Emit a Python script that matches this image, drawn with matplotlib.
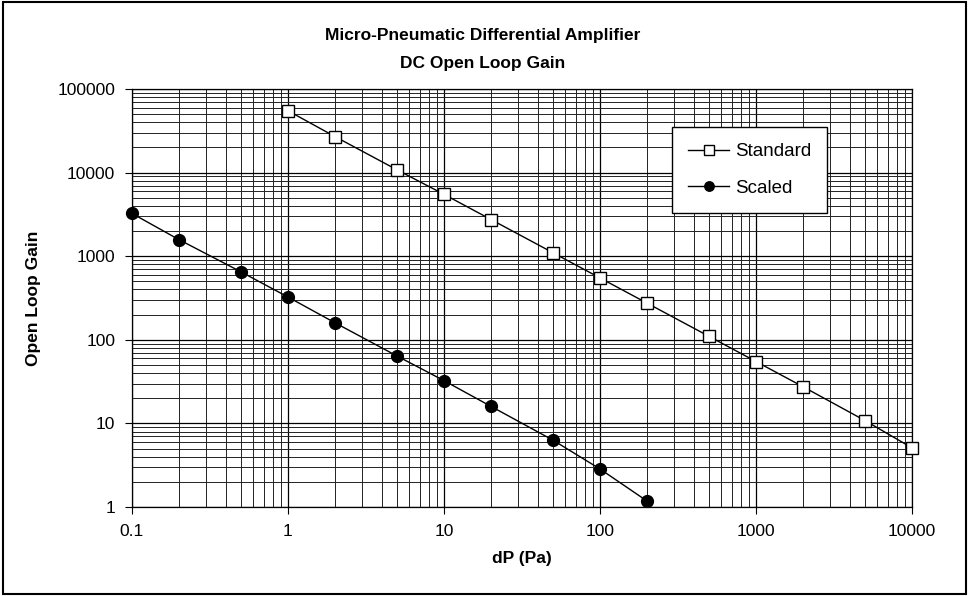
import matplotlib
matplotlib.use('Agg')
import matplotlib.pyplot as plt
from matplotlib.patches import Rectangle
from matplotlib.ticker import LogLocator, FixedLocator, FixedFormatter, NullFormatter

plt.rcParams['font.family'] = ['Liberation Sans', 'DejaVu Sans']

# Standard amplifier
std_dp = [1, 2, 5, 10, 20, 50, 100, 200, 500, 1000, 2000, 5000, 10000]
std_gain = [55000, 27000, 10800, 5500, 2750, 1100, 550, 275, 110, 55, 27.5, 10.8, 5.1]

# Scaled amplifier
scl_dp = [0.1, 0.2, 0.5, 1, 2, 5, 10, 20, 50, 100, 200]
scl_gain = [3250, 1580, 650, 325, 160, 64, 32.5, 16, 6.3, 2.85, 1.18]

x_ticks = [0.1, 1, 10, 100, 1000, 10000]
x_labels = ['0.1', '1', '10', '100', '1000', '10000']
y_ticks = [1, 10, 100, 1000, 10000, 100000]
y_labels = ['1', '10', '100', '1000', '10000', '100000']

fig = plt.figure(figsize=(9.69, 5.96), dpi=100)
fig.patches.append(Rectangle((0.003, 0.003), 0.994, 0.994, transform=fig.transFigure,
                             fill=False, edgecolor='black', linewidth=1.5))

ax = fig.add_axes([0.1362, 0.1493, 0.805, 0.7013])
ax.set_xscale('log')
ax.set_yscale('log')
ax.set_xlim(0.1, 10000)
ax.set_ylim(1, 100000)

ax.xaxis.set_major_locator(FixedLocator(x_ticks))
ax.xaxis.set_major_formatter(FixedFormatter(x_labels))
ax.yaxis.set_major_locator(FixedLocator(y_ticks))
ax.yaxis.set_major_formatter(FixedFormatter(y_labels))
ax.xaxis.set_minor_locator(LogLocator(base=10, subs=range(2, 10), numticks=20))
ax.yaxis.set_minor_locator(LogLocator(base=10, subs=range(2, 10), numticks=20))
ax.xaxis.set_minor_formatter(NullFormatter())
ax.yaxis.set_minor_formatter(NullFormatter())

ax.grid(True, which='major', color='black', linewidth=0.9)
ax.grid(True, which='minor', color='#222222', linewidth=0.7)
ax.tick_params(which='major', direction='out', length=5, width=0.8, labelsize=12.5, pad=7)
ax.tick_params(which='minor', length=0)
for s in ax.spines.values():
    s.set_linewidth(0.9)

ax.plot(std_dp, std_gain, color='black', linewidth=1.0, marker='s', markersize=8.5,
        markerfacecolor='white', markeredgecolor='black', markeredgewidth=1.0,
        label='Standard', zorder=3, clip_on=False)
ax.plot(scl_dp, scl_gain, color='black', linewidth=1.0, marker='o', markersize=8.5,
        markerfacecolor='black', markeredgecolor='black', label='Scaled', zorder=3,
        clip_on=False)

leg = ax.legend(loc='upper right', bbox_to_anchor=(0.891, 0.909), fontsize=13.5,
                frameon=True, fancybox=False, edgecolor='black', framealpha=1,
                borderpad=0.85, labelspacing=1.05, handlelength=2.2, handletextpad=0.3,
                markerscale=0.8, borderaxespad=0)
leg.get_frame().set_linewidth(1.0)

ax.set_xlabel('dP (Pa)', fontsize=12.5, fontweight='bold', labelpad=9)
ax.set_ylabel('Open Loop Gain', fontsize=12.5, fontweight='bold', labelpad=12)

fig.text(0.498, 0.940, 'Micro-Pneumatic Differential Amplifier', ha='center', va='center',
         fontsize=12.5, fontweight='bold')
fig.text(0.498, 0.893, 'DC Open Loop Gain', ha='center', va='center',
         fontsize=12.5, fontweight='bold')

fig.savefig('out.png', dpi=100)
